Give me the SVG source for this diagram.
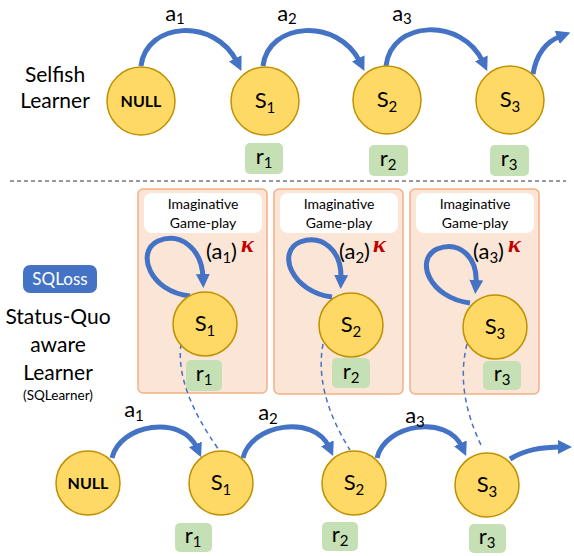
<svg xmlns="http://www.w3.org/2000/svg" width="574" height="556" viewBox="0 0 574 556">
<style>
text{font-family:Lato,"Liberation Sans",sans-serif;fill:#000}
.st{fill:#FFD966;stroke:#BF9000;stroke-width:1.5}
.rw{fill:#C5E0B4}
.box{fill:#FBE5D6;stroke:#F4B183;stroke-width:1.5}
.arc{fill:none;stroke:#4472C4;stroke-width:5;marker-end:url(#ah)}
.dash{fill:none;stroke:#4472C4;stroke-width:1.5;stroke-dasharray:5 4}
.lbl{font-size:22px;text-anchor:middle}
.big{font-size:21px;text-anchor:middle}
.sm{font-size:15px}
.img{font-size:14px;text-anchor:middle}
.kap{fill:#C00000;font-weight:bold;font-style:italic;font-size:24px;font-family:"Liberation Serif",serif}
</style>
<defs>
<marker id="ah" viewBox="0 0 14 14" markerWidth="14" markerHeight="14" markerUnits="userSpaceOnUse" refX="4" refY="7" orient="auto">
<path d="M0,0 L14,7 L0,14 z" fill="#4472C4"/>
</marker>
</defs>

<g id="labels-left">
<text class="big" x="55" y="82">Selfish</text>
<text class="big" x="55" y="108">Learner</text>
<text class="big" x="58" y="324">Status-Quo</text>
<text class="big" x="58" y="352">aware</text>
<text class="big" x="58" y="380">Learner</text>
<text x="58" y="400" font-size="13.5" text-anchor="middle">(SQLearner)</text>
</g>
<g id="sqloss">
<rect x="23" y="265" width="74" height="28" rx="7" fill="#4472C4"/>
<text x="60" y="285" font-size="17" text-anchor="middle" style="fill:#fff">SQLoss</text>
</g>

<line x1="10" y1="181" x2="566" y2="181" stroke="#333" stroke-width="1.2" stroke-dasharray="4 3"/>

<g id="boxes">
<g id="box1">
<rect class="box" x="138" y="189" width="129" height="204" rx="5"/>
<rect x="144" y="193" width="118" height="40" rx="8" fill="#fff"/>
<text class="img" x="203" y="209">Imaginative</text>
<text class="img" x="203" y="228">Game-play</text>
</g>
<g id="box2">
<rect class="box" x="274" y="189" width="129" height="205" rx="5"/>
<rect x="280" y="193" width="118" height="40" rx="8" fill="#fff"/>
<text class="img" x="339" y="209">Imaginative</text>
<text class="img" x="339" y="228">Game-play</text>
</g>
<g id="box3">
<rect class="box" x="410" y="189" width="129" height="205" rx="5"/>
<rect x="416" y="193" width="118" height="40" rx="8" fill="#fff"/>
<text class="img" x="475" y="209">Imaginative</text>
<text class="img" x="475" y="228">Game-play</text>
</g>
</g>

<g id="connectors">
<path class="arc" d="M141,66 C146,22 215,17 237,62"/>
<path class="arc" d="M263,66 C268,22 338,17 360,62"/>
<path class="arc" d="M386,66 C391,20 462,17 483,62"/>
<path class="arc" d="M533,74 C536,56 545,42 561,36"/>
<path class="arc" d="M190,296 C150,292 135,252 158,241 C180,232 202,248 203,278"/>
<path class="arc" d="M332,297 C292,292 276,252 300,242 C322,234 342,250 341,279"/>
<path class="arc" d="M470,303 C430,298 414,260 437,249 C460,240 478,258 476,284"/>
<path class="arc" d="M112,458 C120,424 182,414 197,448"/>
<path class="arc" d="M243,458 C251,424 314,414 329,447"/>
<path class="arc" d="M377,458 C385,424 447,414 462,447"/>
<path class="arc" d="M510,459 C525,450 540,447 562,447"/>
<path class="dash" d="M181,344 Q175,388 219,450"/>
<path class="dash" d="M323,344 Q314,392 350,450"/>
<path class="dash" d="M467,344 Q455,392 482,447"/>
</g>

<g id="action-labels">
<text class="lbl" x="175" y="21">a<tspan class="sm" dy="3">1</tspan></text>
<text class="lbl" x="287" y="21">a<tspan class="sm" dy="3">2</tspan></text>
<text class="lbl" x="402" y="21">a<tspan class="sm" dy="3">3</tspan></text>
<text class="lbl" x="134" y="417">a<tspan class="sm" dy="4">1</tspan></text>
<text class="lbl" x="268" y="420">a<tspan class="sm" dy="4">2</tspan></text>
<text class="lbl" x="415" y="423">a<tspan class="sm" dy="4">3</tspan></text>
<text x="206" y="259" font-size="22">(a<tspan class="sm" dy="4">1</tspan><tspan dy="-4">)</tspan></text>
<text class="kap" x="241" y="252">κ</text>
<text x="339" y="259" font-size="22">(a<tspan class="sm" dy="4">2</tspan><tspan dy="-4">)</tspan></text>
<text class="kap" x="373" y="252">κ</text>
<text x="473" y="259" font-size="22">(a<tspan class="sm" dy="4">3</tspan><tspan dy="-4">)</tspan></text>
<text class="kap" x="508" y="252">κ</text>
</g>

<g id="top-null"><circle class="st" cx="141" cy="101" r="34"/><text x="141" y="107" font-size="16" font-weight="bold" text-anchor="middle">NULL</text></g>
<g id="top-s1"><circle class="st" cx="265" cy="101" r="34"/><text class="lbl" x="265" y="108">S<tspan class="sm" dy="5">1</tspan></text></g>
<g id="top-s2"><circle class="st" cx="387" cy="100" r="34"/><text class="lbl" x="387" y="107">S<tspan class="sm" dy="5">2</tspan></text></g>
<g id="top-s3"><circle class="st" cx="510" cy="100" r="34"/><text class="lbl" x="510" y="107">S<tspan class="sm" dy="5">3</tspan></text></g>
<g id="top-r1"><rect class="rw" x="245" y="143" width="38" height="31" rx="5"/><text class="lbl" x="264" y="164">r<tspan class="sm" dy="4">1</tspan></text></g>
<g id="top-r2"><rect class="rw" x="369" y="145" width="39" height="31" rx="5"/><text class="lbl" x="388" y="166">r<tspan class="sm" dy="4">2</tspan></text></g>
<g id="top-r3"><rect class="rw" x="490" y="145" width="39" height="31" rx="5"/><text class="lbl" x="509" y="166">r<tspan class="sm" dy="4">3</tspan></text></g>

<g id="img-s1"><circle class="st" cx="205" cy="324" r="32"/><text class="lbl" x="205" y="331">S<tspan class="sm" dy="5">1</tspan></text></g>
<g id="img-s2"><circle class="st" cx="351" cy="325" r="32"/><text class="lbl" x="351" y="332">S<tspan class="sm" dy="5">2</tspan></text></g>
<g id="img-s3"><circle class="st" cx="495" cy="327" r="32"/><text class="lbl" x="495" y="334">S<tspan class="sm" dy="5">3</tspan></text></g>
<g id="img-r1"><rect class="rw" x="186" y="360" width="36" height="31" rx="5"/><text class="lbl" x="204" y="381">r<tspan class="sm" dy="4">1</tspan></text></g>
<g id="img-r2"><rect class="rw" x="332" y="358" width="38" height="30" rx="5"/><text class="lbl" x="351" y="379">r<tspan class="sm" dy="4">2</tspan></text></g>
<g id="img-r3"><rect class="rw" x="483" y="361" width="38" height="29" rx="5"/><text class="lbl" x="502" y="381">r<tspan class="sm" dy="4">3</tspan></text></g>

<g id="bot-null"><circle class="st" cx="88" cy="483" r="32"/><text x="88" y="489" font-size="16" font-weight="bold" text-anchor="middle">NULL</text></g>
<g id="bot-s1"><circle class="st" cx="221" cy="483" r="32"/><text class="lbl" x="221" y="490">S<tspan class="sm" dy="5">1</tspan></text></g>
<g id="bot-s2"><circle class="st" cx="354" cy="483" r="32"/><text class="lbl" x="354" y="490">S<tspan class="sm" dy="5">2</tspan></text></g>
<g id="bot-s3"><circle class="st" cx="487" cy="485" r="32"/><text class="lbl" x="487" y="492">S<tspan class="sm" dy="5">3</tspan></text></g>
<g id="bot-r1"><rect class="rw" x="175" y="523" width="37" height="29" rx="5"/><text class="lbl" x="193" y="543">r<tspan class="sm" dy="4">1</tspan></text></g>
<g id="bot-r2"><rect class="rw" x="322" y="522" width="36" height="29" rx="5"/><text class="lbl" x="340" y="542">r<tspan class="sm" dy="4">2</tspan></text></g>
<g id="bot-r3"><rect class="rw" x="469" y="524" width="37" height="29" rx="5"/><text class="lbl" x="487" y="544">r<tspan class="sm" dy="4">3</tspan></text></g>
</svg>
